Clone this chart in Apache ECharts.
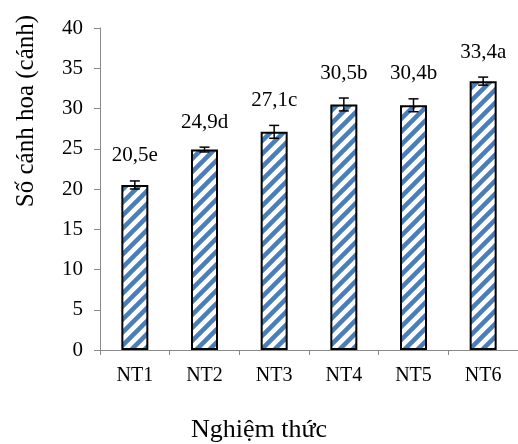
<!DOCTYPE html>
<html>
<head>
<meta charset="utf-8">
<script src="https://cdn.jsdelivr.net/npm/echarts@6/dist/echarts.min.js"></script>
<style>
  html, body { margin: 0; padding: 0; background: #fff; }
  #chart { width: 518px; height: 444px; }
</style>
</head>
<body>
<div id="chart"></div>
<script>
// Số cánh hoa theo nghiệm thức
const categories = ['NT1', 'NT2', 'NT3', 'NT4', 'NT5', 'NT6'];
const values = [20.5, 24.9, 27.1, 30.5, 30.4, 33.4];
const errors = [0.5, 0.3, 0.8, 0.8, 0.8, 0.5];
const letters = ['e', 'd', 'c', 'b', 'b', 'a'];
const yTicks = { min: 0, max: 40, step: 5 };

const FONT = '"Liberation Serif", "Times New Roman", serif';

// diagonal (upward) hatch tile for the bars
function hatch() {
  const s = 13;
  const c = document.createElement('canvas');
  c.width = s; c.height = s;
  const g = c.getContext('2d');
  g.fillStyle = '#ffffff';
  g.fillRect(0, 0, s, s);
  g.strokeStyle = '#4a7ebb';
  g.lineWidth = 4.5;
  g.beginPath();
  g.moveTo(-2, s + 2); g.lineTo(s + 2, -2);
  g.moveTo(-2, 2); g.lineTo(2, -2);
  g.moveTo(s - 2, s + 2); g.lineTo(s + 2, s - 2);
  g.stroke();
  return c;
}

const chart = echarts.init(document.getElementById('chart'), null, { renderer: 'canvas' });

const labelText = values.map((v, i) => v.toFixed(1).replace('.', ',') + letters[i]);

chart.setOption({
  animation: false,
  grid: { left: 100, right: 0, top: 28, bottom: 94 },
  xAxis: {
    type: 'category',
    data: categories,
    axisLine: { lineStyle: { color: '#898989', width: 1 } },
    axisTick: { show: true, length: 5, lineStyle: { color: '#898989' } },
    axisLabel: { color: '#000', fontFamily: FONT, fontSize: 20, margin: 16 }
  },
  yAxis: {
    type: 'value',
    min: yTicks.min, max: yTicks.max, interval: yTicks.step,
    axisLine: { show: true, lineStyle: { color: '#898989', width: 1 } },
    axisTick: { show: true, length: 6, lineStyle: { color: '#898989' } },
    splitLine: { show: false },
    axisLabel: { color: '#000', fontFamily: FONT, fontSize: 21, margin: 17 }
  },
  series: [
    {
      type: 'bar',
      data: values,
      barWidth: 27,
      itemStyle: {
        color: { image: hatch(), repeat: 'repeat' },
        borderColor: '#000',
        borderWidth: 2
      }
    },
    {
      // error bars with the significance label above each bar
      type: 'custom',
      data: values.map((v, i) => [i, v, errors[i]]),
      renderItem: function (params, api) {
        const i = api.value(0), v = api.value(1), e = api.value(2);
        const top = api.coord([i, v + e]);
        const bot = api.coord([i, v - e]);
        const x = top[0];
        const hw = 5;
        return {
          type: 'group',
          children: [
            { type: 'line', shape: { x1: x, y1: top[1], x2: x, y2: bot[1] }, style: { stroke: '#000', lineWidth: 1.5 } },
            { type: 'line', shape: { x1: x - hw, y1: top[1], x2: x + hw, y2: top[1] }, style: { stroke: '#000', lineWidth: 1.5 } },
            { type: 'line', shape: { x1: x - hw, y1: bot[1], x2: x + hw, y2: bot[1] }, style: { stroke: '#000', lineWidth: 1.5 } },
            {
              type: 'text',
              x: x, y: top[1] - 25,
              style: {
                text: labelText[params.dataIndex],
                fill: '#000',
                font: '21px ' + FONT,
                align: 'center',
                verticalAlign: 'middle'
              }
            }
          ]
        };
      },
      z: 5
    }
  ],
  graphic: [
    {
      type: 'text',
      x: 259, y: 430,
      style: { text: 'Nghiệm thức', fill: '#000', font: '26px ' + FONT, align: 'center', verticalAlign: 'middle' }
    },
    {
      type: 'text',
      x: 26, y: 111,
      rotation: Math.PI / 2,
      style: { text: 'Số cánh hoa (cánh)', fill: '#000', font: '25px ' + FONT, align: 'center', verticalAlign: 'middle' }
    }
  ]
});
</script>
</body>
</html>
